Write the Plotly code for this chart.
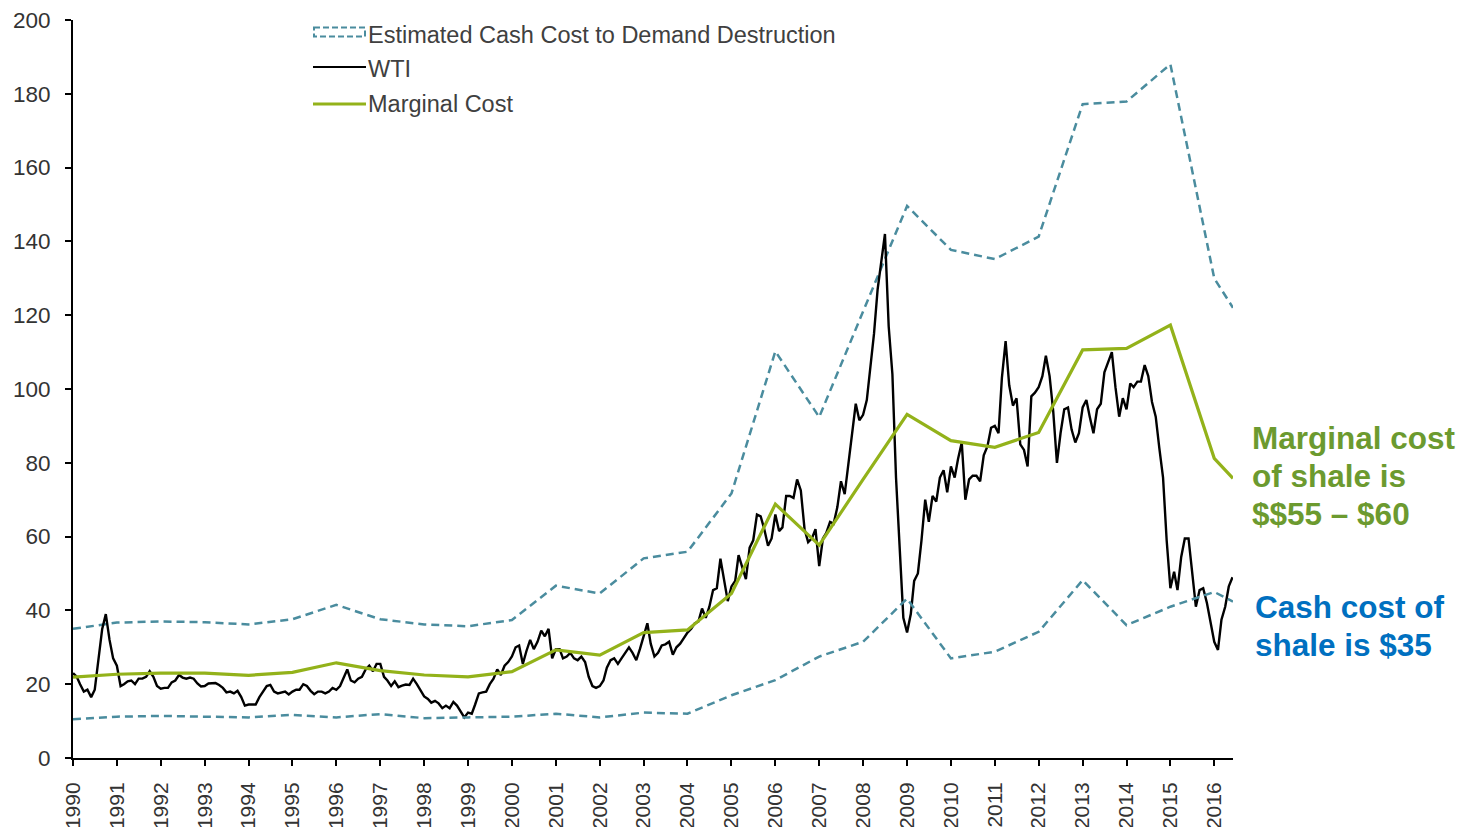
import pandas as pd
import plotly.graph_objects as go

# ---------------- data ----------------
years = list(range(1990, 2017))
end_date = "2016-06-05"

upper_cost = [35.0, 36.7, 37.0, 36.8, 36.2, 37.6, 41.5, 37.6, 36.2, 35.7, 37.4, 46.7, 44.6, 54.1,
              55.9, 71.7, 110.2, 92.4, 121.0, 149.6, 137.7, 135.2, 141.3, 177.2, 177.9, 188.0,
              130.0, 122.0]
lower_cost = [10.5, 11.2, 11.4, 11.2, 11.0, 11.7, 11.0, 11.9, 10.8, 11.0, 11.2, 12.0, 11.0, 12.3,
              12.0, 17.0, 21.1, 27.5, 31.5, 43.2, 27.0, 28.8, 34.2, 48.2, 36.0, 41.0, 45.0, 42.4]
marginal_cost = [21.9, 22.7, 23.0, 23.0, 22.4, 23.2, 25.8, 23.7, 22.5, 22.0, 23.4, 29.3, 27.9, 34.0,
                 34.7, 44.6, 68.8, 57.7, 75.5, 93.1, 86.0, 84.2, 88.2, 110.6, 111.0, 117.3, 81.2,
                 75.8]

wti_start = "1990-01-01"
wti = [
    23.0, 22.0, 20.0, 18.0, 18.5, 16.5, 18.5, 27.0, 35.0, 39.0, 32.0, 27.0,   # 1990
    25.0, 19.5, 20.0, 20.8, 21.0, 20.0, 21.5, 21.5, 22.0, 23.5, 22.0, 19.5,   # 1991
    18.8, 19.0, 19.0, 20.5, 21.0, 22.5, 21.8, 21.5, 21.8, 21.5, 20.2, 19.4,   # 1992
    19.5, 20.2, 20.3, 20.3, 19.8, 19.0, 17.8, 18.0, 17.5, 18.2, 16.5, 14.2,   # 1993
    14.5, 14.5, 14.5, 16.5, 18.0, 19.5, 19.8, 18.0, 17.5, 17.8, 18.0, 17.2,   # 1994
    18.0, 18.5, 18.5, 20.0, 19.5, 18.2, 17.3, 18.0, 18.0, 17.5, 18.0, 19.0,   # 1995
    18.5, 19.5, 21.5, 24.0, 21.0, 20.5, 21.5, 22.0, 24.0, 25.0, 23.5, 25.5,   # 1996
    25.5, 22.0, 21.0, 19.5, 20.8, 19.2, 19.6, 19.9, 19.8, 21.5, 20.0, 18.3,   # 1997
    16.7, 16.0, 15.0, 15.5, 14.8, 13.5, 14.2, 13.5, 15.2, 14.2, 12.5, 11.0,   # 1998
    12.3, 12.0, 14.5, 17.5, 17.8, 18.0, 20.0, 21.5, 24.0, 22.5, 25.0, 26.0,   # 1999
    27.5, 30.0, 30.5, 25.5, 29.0, 32.0, 29.5, 31.5, 34.5, 33.0, 35.0, 27.0,   # 2000
    29.5, 29.5, 27.0, 27.5, 28.5, 27.0, 26.5, 27.5, 26.0, 22.0, 19.5, 19.0,   # 2001
    19.5, 21.0, 24.5, 26.5, 27.0, 25.5, 27.0, 28.5, 30.0, 28.5, 26.5, 29.5,   # 2002
    33.0, 36.5, 31.0, 27.5, 28.5, 30.5, 30.8, 31.5, 28.0, 30.0, 31.0, 32.5,   # 2003
    34.0, 35.0, 36.5, 37.0, 40.5, 38.0, 41.0, 45.5, 46.0, 54.0, 48.0, 42.5,   # 2004
    46.5, 48.0, 55.0, 52.0, 48.5, 57.0, 59.0, 66.0, 65.5, 62.0, 57.5, 59.5,   # 2005
    66.0, 61.5, 62.5, 71.0, 71.0, 70.5, 75.5, 72.5, 62.0, 58.5, 59.5, 62.0,   # 2006
    52.0, 59.5, 61.0, 64.0, 63.5, 68.0, 75.0, 71.5, 80.0, 87.0, 96.0, 91.5,   # 2007
    93.0, 97.0, 106.0, 115.0, 127.0, 135.0, 142.0, 117.0, 104.0, 76.0, 55.0, 38.0,  # 2008
    34.0, 39.0, 48.0, 50.0, 59.0, 70.0, 64.0, 71.0, 69.5, 76.0, 78.0, 72.0,   # 2009
    79.0, 76.0, 81.0, 85.5, 70.0, 75.5, 76.5, 76.5, 75.0, 82.0, 84.5, 89.5,   # 2010
    90.0, 88.0, 103.0, 113.0, 101.0, 95.5, 97.5, 85.0, 83.5, 79.0, 98.0, 99.0,  # 2011
    100.5, 103.5, 109.0, 103.5, 94.0, 80.0, 88.0, 94.5, 95.0, 89.0, 85.5, 88.0,  # 2012
    95.0, 97.0, 92.5, 88.0, 94.5, 96.0, 104.5, 107.0, 110.0, 100.5, 92.5, 97.5,  # 2013
    94.5, 101.5, 100.5, 102.0, 102.0, 106.5, 103.5, 96.5, 92.5, 84.0, 76.0, 59.0,  # 2014
    46.0, 50.5, 45.5, 54.5, 59.5, 59.5, 51.0, 41.0, 45.5, 46.0, 42.0, 36.5,   # 2015
    31.5, 29.3, 37.5, 41.0, 46.5, 49.0,                                       # 2016
]

y_ticks = list(range(0, 201, 20))
legend_names = ["Estimated Cash Cost to Demand Destruction", "WTI", "Marginal Cost"]
note_marginal = ["Marginal cost", "of shale is", "$$55 – $60"]
note_cash = ["Cash cost of", "shale is $35"]

# ---------------- styling / geometry ----------------
cost_dates = [f"{y}-01-01" for y in years] + [end_date]
wti_dates = pd.date_range(wti_start, periods=len(wti), freq="MS")

DASH = "#4a8c9e"
GREEN = "#93b21a"
FONT = "Liberation Sans, Arial, sans-serif"
DASHPAT = "8px,5px"
W, H = 1473, 827
ML, MR, MT, MB = 65, 248, 12, 77
PW, PH = W - ML - MR, H - MT - MB


def px(x):  # figure pixel -> paper x
    return (x - ML) / PW


def py(y):  # figure pixel -> paper y
    return (H - MB - y) / PH


fig = go.Figure()
fig.add_trace(go.Scatter(x=cost_dates, y=upper_cost, mode="lines", name=legend_names[0],
                         line=dict(color=DASH, width=2.5, dash=DASHPAT), showlegend=False))
fig.add_trace(go.Scatter(x=wti_dates, y=wti, mode="lines", name=legend_names[1],
                         line=dict(color="black", width=2.4), showlegend=False))
fig.add_trace(go.Scatter(x=cost_dates, y=marginal_cost, mode="lines", name=legend_names[2],
                         line=dict(color=GREEN, width=3.2), showlegend=False))
fig.add_trace(go.Scatter(x=cost_dates, y=lower_cost, mode="lines", name=legend_names[0],
                         line=dict(color=DASH, width=2.5, dash=DASHPAT), showlegend=False))

# legend drawn in Excel style (dashed box, solid lines)
shapes = [
    dict(type="rect", xref="paper", yref="paper", x0=px(306), x1=px(357), y0=py(19.5), y1=py(28.5),
         line=dict(color=DASH, width=2, dash="6px,3px"), fillcolor="rgba(0,0,0,0)"),
    dict(type="line", xref="paper", yref="paper", x0=px(305), x1=px(358), y0=py(59), y1=py(59),
         line=dict(color="black", width=2.2)),
    dict(type="line", xref="paper", yref="paper", x0=px(305), x1=px(358), y0=py(96), y1=py(96),
         line=dict(color=GREEN, width=3.2)),
]
annotations = []
for name, ycen in zip(legend_names, [27, 61, 96]):
    annotations.append(dict(text=name, xref="paper", yref="paper", x=px(358), y=py(ycen),
                            xanchor="left", yanchor="middle", align="left", showarrow=False,
                            font=dict(size=23.5, color="#404040", family=FONT)))
for i, line in enumerate(note_marginal):
    annotations.append(dict(text=line, xref="paper", yref="paper", x=px(1242), y=py(430 + 38 * i),
                            xanchor="left", yanchor="middle", align="left", showarrow=False,
                            font=dict(size=31.5, color="#6c9a2f", family=FONT, weight="bold")))
for i, line in enumerate(note_cash):
    annotations.append(dict(text=line, xref="paper", yref="paper", x=px(1245), y=py(599 + 38 * i),
                            xanchor="left", yanchor="middle", align="left", showarrow=False,
                            font=dict(size=31.5, color="#0070C0", family=FONT, weight="bold")))

fig.update_layout(
    width=W, height=H,
    margin=dict(l=ML, r=MR, t=MT, b=MB),
    paper_bgcolor="white", plot_bgcolor="white",
    font=dict(family=FONT, color="#333333", size=18),
    showlegend=False,
    xaxis=dict(type="date", range=["1990-01-01", end_date], automargin=False,
               tickvals=[f"{y}-01-01" for y in years], ticktext=[str(y) for y in years],
               tickangle=-90, ticks="outside", ticklen=6, tickwidth=1.5, tickcolor="black",
               ticklabelstandoff=8, ticklabeloverflow="allow",
               showline=True, linecolor="black", linewidth=2, showgrid=False, zeroline=False,
               tickfont=dict(size=21, color="#333333")),
    yaxis=dict(range=[0, 200], tickvals=y_ticks, ticks="outside", ticklen=6, tickwidth=1.5,
               ticklabelstandoff=10, automargin=False, ticklabeloverflow="allow",
               tickcolor="black", showline=True, linecolor="black", linewidth=2,
               showgrid=False, zeroline=False, tickfont=dict(size=22.5, color="#333333")),
    shapes=shapes,
    annotations=annotations,
)

fig.write_html("out.html")
